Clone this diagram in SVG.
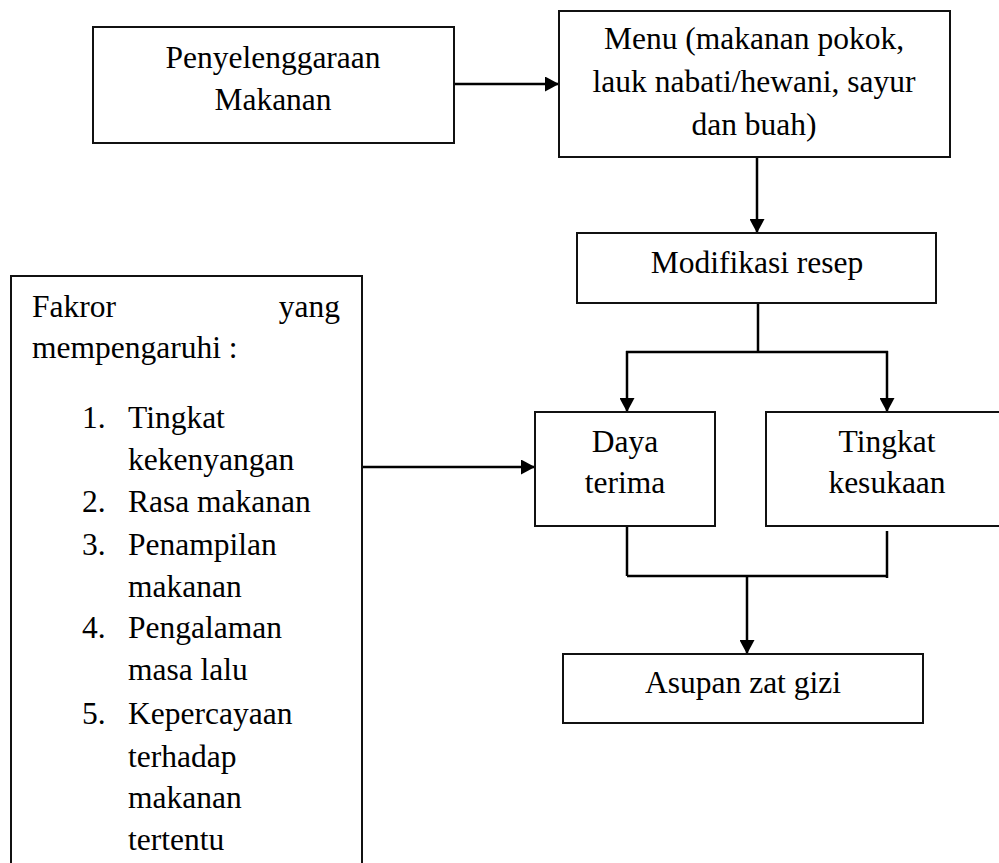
<svg xmlns="http://www.w3.org/2000/svg" width="999" height="863" viewBox="0 0 999 863">
<style>
.box{fill:#fff;stroke:#111;stroke-width:2}
.t{font-family:"Liberation Serif","Times New Roman",serif;font-size:31.5px;fill:#000}
.c{text-anchor:middle}
.e{text-anchor:end}
.ln{fill:none;stroke:#000;stroke-width:2.5}
.arr{marker-end:url(#ah)}
</style>
<defs>
<marker id="ah" markerUnits="userSpaceOnUse" markerWidth="14" markerHeight="15" refX="14" refY="7.5" orient="auto">
<path d="M0,0 L14,7.5 L0,15 z" fill="#000"/>
</marker>
</defs>
<rect width="999" height="863" fill="#fff"/>
<g id="connectors">
<line class="ln arr" x1="454" y1="84" x2="559" y2="84"/>
<line class="ln arr" x1="757" y1="157" x2="757" y2="233"/>
<line class="ln" x1="758" y1="303" x2="758" y2="352"/>
<line class="ln" x1="626" y1="352" x2="888" y2="352"/>
<line class="ln arr" x1="627" y1="351" x2="627" y2="412"/>
<line class="ln arr" x1="887" y1="351" x2="887" y2="412"/>
<line class="ln" x1="627" y1="526" x2="627" y2="576"/>
<line class="ln" x1="887" y1="531" x2="887" y2="578"/>
<line class="ln" x1="627" y1="576" x2="887" y2="576"/>
<line class="ln arr" x1="747" y1="576" x2="747" y2="654"/>
<line class="ln arr" x1="362" y1="467" x2="535" y2="467"/>
</g>
<g id="penyelenggaraan">
<rect class="box" x="93" y="27" width="361" height="116"/>
<text class="t c" x="273" y="68">Penyelenggaraan</text>
<text class="t c" x="273" y="110">Makanan</text>
</g>
<g id="menu">
<rect class="box" x="559" y="11" width="391" height="146"/>
<text class="t c" x="754" y="49">Menu (makanan pokok,</text>
<text class="t c" x="754" y="92">lauk nabati/hewani, sayur</text>
<text class="t c" x="754" y="135">dan buah)</text>
</g>
<g id="modifikasi">
<rect class="box" x="577" y="233" width="359" height="70"/>
<text class="t c" x="757" y="273">Modifikasi resep</text>
</g>
<g id="daya">
<rect class="box" x="535" y="412" width="180" height="114"/>
<text class="t c" x="625" y="452">Daya</text>
<text class="t c" x="625" y="493">terima</text>
</g>
<g id="tingkat">
<rect class="box" x="766" y="412" width="245" height="114"/>
<text class="t c" x="887" y="452">Tingkat</text>
<text class="t c" x="887" y="493">kesukaan</text>
</g>
<g id="asupan">
<rect class="box" x="563" y="654" width="360" height="69"/>
<text class="t c" x="743" y="693">Asupan zat gizi</text>
</g>
<g id="faktor">
<rect class="box" x="11" y="276" width="351" height="600"/>
<text class="t" x="32" y="317">Fakror</text>
<text class="t e" x="340" y="317">yang</text>
<text class="t" x="32" y="358">mempengaruhi :</text>
<text class="t" x="82" y="428">1.</text>
<text class="t" x="128" y="428">Tingkat</text>
<text class="t" x="128" y="470">kekenyangan</text>
<text class="t" x="82" y="512">2.</text>
<text class="t" x="128" y="512">Rasa makanan</text>
<text class="t" x="82" y="555">3.</text>
<text class="t" x="128" y="555">Penampilan</text>
<text class="t" x="128" y="597">makanan</text>
<text class="t" x="82" y="638">4.</text>
<text class="t" x="128" y="638">Pengalaman</text>
<text class="t" x="128" y="680">masa lalu</text>
<text class="t" x="82" y="724">5.</text>
<text class="t" x="128" y="724">Kepercayaan</text>
<text class="t" x="128" y="767">terhadap</text>
<text class="t" x="128" y="808">makanan</text>
<text class="t" x="128" y="850">tertentu</text>
</g>
</svg>
